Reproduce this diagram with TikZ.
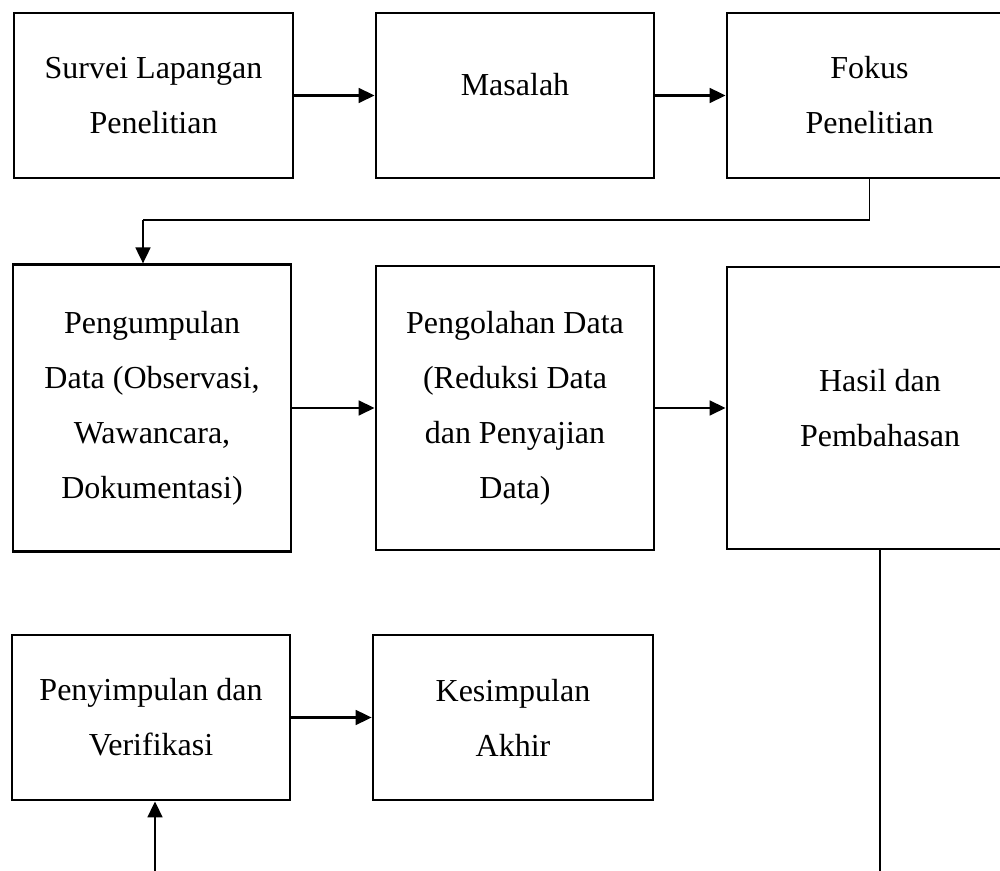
\documentclass[tikz,border=0pt]{standalone}
\usepackage{fontspec}
\setmainfont{Liberation Serif}
\usetikzlibrary{arrows.meta}

\begin{document}
\begin{tikzpicture}[
      x=0.375pt, y=-0.375pt,
      line cap=butt,
      line join=miter,
      every node/.style={font=\fontsize{12}{20.6}\selectfont, inner sep=0pt, align=center},
      box/.style={draw, line width=1pt, minimum height=61.9pt},
      flow/.style={line width=1pt, -{Triangle[length=6pt,width=5.5pt]}},
      thin/.style={line width=0.5pt},
    ]
    %% Page frame; the right column runs off the page.
    \useasboundingbox (0,0) rectangle (1000,871);
    \clip (0,0) rectangle (1000,871);
    %% Top row.
    \node[box, minimum width=104.6pt] (survei) at (153.5,95.5)
      {Survei Lapangan\\Penelitian};
    \node[box, minimum width=104.3pt] (masalah) at (515,95.5) {};
    \node at ([yshift=4.2pt]masalah.center) {Masalah};
    \node[box, minimum width=106.9pt] (fokus) at (869.5,95.5)
      {Fokus\\Penelitian};
    %% Middle row.
    \node[box, minimum width=104.3pt, minimum height=107.4pt] (kumpul) at (152,408)
      {Pengumpulan\\Data (Observasi,\\Wawancara,\\Dokumentasi)};
    \node[box, minimum width=104.3pt, minimum height=106.5pt] (olah) at (515,408)
      {Pengolahan Data\\(Reduksi Data\\dan Penyajian\\Data)};
    \node[box, minimum width=114.8pt, minimum height=105.8pt] (hasil) at (880,408)
      {Hasil dan\\Pembahasan};
    %% Bottom row.
    \node[box, minimum width=104.3pt] (simpul) at (151,717.5)
      {Penyimpulan dan\\Verifikasi};
    \node[box, minimum width=105pt] (akhir) at (513,717.5)
      {Kesimpulan\\Akhir};
    %% Connectors.
    \coordinate (bend) at (143,220);
    \coordinate (hasil end) at (880,871);
    \coordinate (foot) at (155,871);
    \draw[flow] (survei) -- (masalah);
    \draw[flow] (masalah) -- (fokus);
    \draw[thin] (fokus.south) |- (bend);
    \draw[flow] (bend) -- (bend |- kumpul.north);
    \draw[flow] (kumpul) -- (olah);
    \draw[flow] (olah) -- (hasil);
    \draw[thin] (hasil.south) -- (hasil end);
    \draw[flow] (foot) -- (foot |- simpul.south);
    \draw[flow] (simpul) -- (akhir);
  \end{tikzpicture}
\end{document}
